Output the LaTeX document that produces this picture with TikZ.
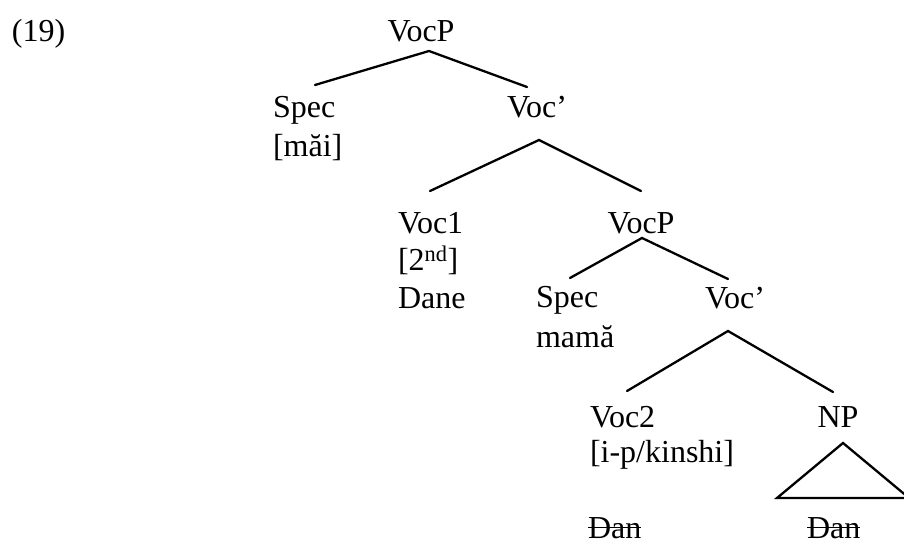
\documentclass[tikz,border=0pt]{standalone}
\usepackage{fontspec}
\setmainfont{Liberation Serif}
% a word with a horizontal stroke through it
\newcommand\strikeword[1]{\setbox0\hbox{#1}\rlap{\rule[10pt]{\wd0}{1.4pt}}\box0}
\begin{document}
\begin{tikzpicture}[x=1pt,y=1pt,
  lbl/.style={inner sep=0pt,outer sep=0pt,align=left,font=\fontsize{32}{#1}\selectfont},
  lbl/.default=35,
  branch/.style={line width=2.3pt,line cap=round}]
\useasboundingbox (0,0) rectangle (904,544);
\clip (0,0) rectangle (904,544);

% example number
\node[lbl,anchor=base west] (ex) at (12,502) {(19)};

% labels of the tree (multi-line labels sit on the baseline of their last line)
\node[lbl,anchor=base] (vA) at (421,502) {VocP};
\node[lbl=39,anchor=base west] (sA) at (273,387) {Spec\\{}[măi]};
\node[lbl,anchor=base] (cA) at (537,426) {Voc’};
\node[lbl=37.5,anchor=base west] (v1) at (398,236) {Voc1\\{}[2\textsuperscript{nd}]\\Dane};
\node[lbl,anchor=base] (vB) at (641,310) {VocP};
\node[lbl=39,anchor=base west] (sB) at (536,197) {Spec\\mamă};
\node[lbl,anchor=base] (cB) at (735,236) {Voc’};
\node[lbl,anchor=base west] (v2) at (590,82) {Voc2\\{}[i-p/kinshi]};
\node[lbl,anchor=base] (np) at (838,117) {NP};
\node[lbl,anchor=base west] (d1) at (588,6) {\strikeword{Dan}};
\node[lbl,anchor=base west] (d2) at (807,6) {\strikeword{Dan}};

% branches
\draw[branch] ([shift={(42,72)}]sA.base west) -- ([shift={(8,-9)}]vA.base)
              -- ([shift={(-10,31)}]cA.base);
\draw[branch] ([shift={(32,117)}]v1.base west) -- ([shift={(2,-22)}]cA.base)
              -- ([shift={(0,43)}]vB.base);
\draw[branch] ([shift={(34,69)}]sB.base west) -- ([shift={(1,-4)}]vB.base)
              -- ([shift={(-7,29)}]cB.base);
\draw[branch] ([shift={(37,71)}]v2.base west) -- ([shift={(-7,-23)}]cB.base)
              -- ([shift={(-5,35)}]np.base);

% triangle under NP
\draw[branch,line join=miter] ([shift={(5,-16)}]np.base) -- ([shift={(-61,-71)}]np.base)
              -- ([shift={(71,-71)}]np.base) -- cycle;
\end{tikzpicture}
\end{document}
